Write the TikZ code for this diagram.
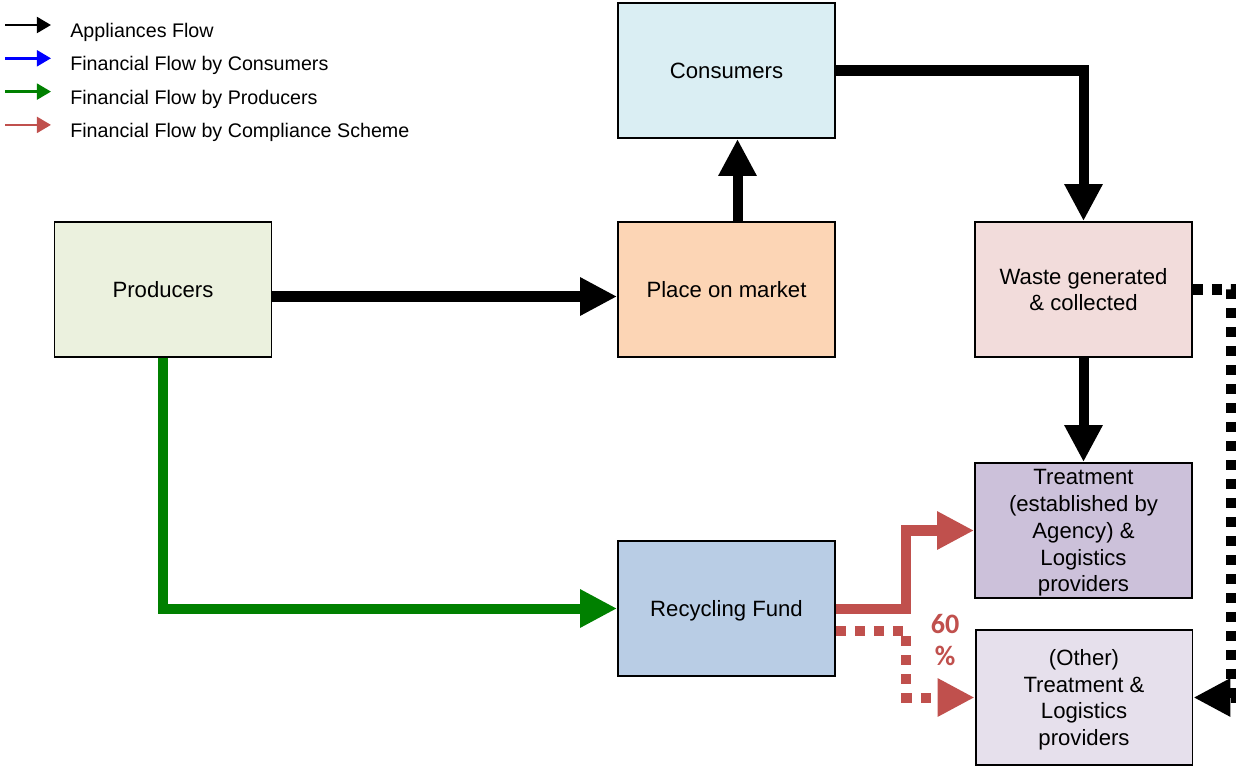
\documentclass[tikz,border=0pt]{standalone}
\usepackage{fontspec}
\setmainfont{Liberation Sans}
\newfontfamily\numfont{Carlito}
\usetikzlibrary{arrows.meta,calc}

\definecolor{consfill}{HTML}{DAEEF3}
\definecolor{prodfill}{HTML}{EBF1DE}
\definecolor{mktfill}{HTML}{FCD5B5}
\definecolor{wastefill}{HTML}{F2DCDB}
\definecolor{treatfill}{HTML}{CCC1DA}
\definecolor{fundfill}{HTML}{B9CDE5}
\definecolor{otherfill}{HTML}{E6E0EC}
\definecolor{finblue}{HTML}{0000FF}
\definecolor{fingreen}{HTML}{008000}
\definecolor{fincomp}{HTML}{C0504D}

\tikzset{
    box/.style={draw, line width=1.1pt, minimum width=4.34cm, minimum height=2.7cm,
        inner sep=0pt, text depth=0pt, align=center, font=\fontsize{12.6}{15.3}\selectfont},
    flow/.style={line width=5.7pt, -{Triangle[length=21pt,width=20.4pt]}},
    dots/.style={dash pattern=on 5.7pt off 5.1pt},
    legarrow/.style={line width=1.5pt, -{Triangle[length=8pt,width=9pt]}},
    legtext/.style={anchor=west, inner sep=0pt, font=\fontsize{11.2}{13}\selectfont}
}

\begin{document}
\begin{tikzpicture}[x=0.02cm, y=-0.02cm]
    \useasboundingbox (0,0) rectangle (1243,767);

    \node[box, fill=consfill] (cons) at (726.5,70.5) {Consumers};
    \node[box, fill=prodfill] (prod) at (163,289.5) {Producers};
    \node[box, fill=mktfill] (market) at (726.5,289.5) {Place on market};
    \node[box, fill=wastefill] (waste) at (1083.5,289.5) {Waste generated\\\& collected};
    \node[box, fill=treatfill] (treat) at (1083.5,530.5)
        {Treatment\\(established by\\Agency) \&\\Logistics\\providers};
    \node[box, fill=fundfill] (fund) at (726.5,608.5) {Recycling Fund};
    \node[box, fill=otherfill] (other) at (1084,697.5)
        {(Other)\\Treatment \&\\Logistics\\providers};

    \draw[flow]
        ($(prod.east)+(0,7)$) -- ($(market.west)+(0,7)$);
    \draw[flow]
        ($(market.north)+(11,0)$) -- ($(cons.south)+(11,0)$);
    \draw[flow]
        (cons.east) -| (waste.north);
    \draw[flow]
        (waste.south) -- (treat.north);
    \draw[flow, dots]
        (waste.east) -- ++(38,0) |- (other.east);
    \draw[flow, fingreen]
        (prod.south) |- (fund.west);
    \draw[flow, fincomp]
        (fund.east) -- ++(70,0) |- (treat.west);
    \draw[flow, fincomp, dots]
        ($(fund.east)+(0,22)$) -- ++(70,0) |- (other.west);

    \node[text=fincomp, align=center, inner sep=0pt,
        font=\numfont\bfseries\fontsize{16}{18}\selectfont] (pct) at (945,640) {60\\\%};

    \foreach \c/\t [count=\i] in {black/Appliances Flow,
                                  finblue/Financial Flow by Consumers,
                                  fingreen/Financial Flow by Producers,
                                  fincomp/Financial Flow by Compliance Scheme} {
        \node[legtext] (leg\i) at (70,{32.5+33.3*(\i-1)}) {\t};
        \draw[legarrow, \c]
            ($(leg\i.west)+(-65,-7.5)$) -- ($(leg\i.west)+(-19,-7.5)$);
    }
\end{tikzpicture}
\end{document}
